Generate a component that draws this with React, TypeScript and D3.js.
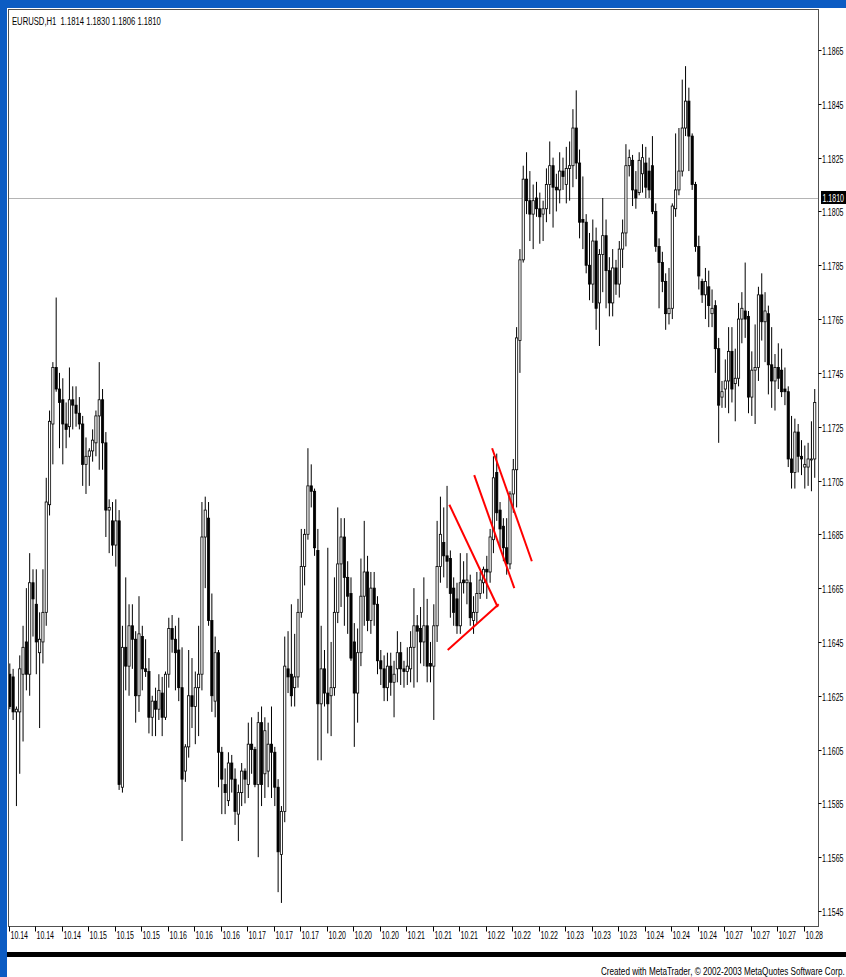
import React, { useEffect, useLayoutEffect, useRef, useState } from "react";
import * as d3 from "d3";

const opens = [
  1.1633,1.1632,1.1619,1.1619,1.1633,1.1645,1.1633,1.1667,1.1659,1.1641,
  1.1645,1.1656,1.1696,1.1726,1.1747,1.1739,1.1735,1.1726,1.1725,1.1735,
  1.1733,1.1730,1.1726,1.1711,1.1714,1.1716,1.1719,1.1729,1.1735,1.1719,
  1.1694,1.1690,1.1681,1.1690,1.1591,1.1643,1.1636,1.1651,1.1646,1.1625,
  1.1647,1.1635,1.1634,1.1617,1.1623,1.1620,1.1626,1.1617,1.1633,1.1650,
  1.1646,1.1642,1.1628,1.1597,1.1606,1.1625,1.1621,1.1628,1.1633,1.1684,
  1.1691,1.1653,1.1623,1.1641,1.1604,1.1592,1.1586,1.1600,1.1594,1.1581,
  1.1589,1.1597,1.1592,1.1607,1.1605,1.1592,1.1615,1.1596,1.1597,1.1607,
  1.1604,1.1591,1.1566,1.1582,1.1635,1.1633,1.1628,1.1632,1.1656,1.1673,
  1.1685,1.1703,1.1701,1.1679,1.1622,1.1635,1.1626,1.1625,1.1628,1.1656,
  1.1674,1.1684,1.1669,1.1663,1.1645,1.1626,1.1641,1.1662,1.1671,1.1653,
  1.1665,1.1659,1.1638,1.1635,1.1628,1.1636,1.1630,1.1635,1.1641,1.1635,
  1.1634,1.1635,1.1643,1.1651,1.1650,1.1645,1.1651,1.1637,1.1636,1.1651,
  1.1673,1.1682,1.1677,1.1676,1.1665,1.1661,1.1651,1.1668,1.1667,1.1667,
  1.1653,1.1656,1.1663,1.1667,1.1672,1.1671,1.1683,1.1708,1.1694,1.1688,
  1.1680,1.1674,1.1700,1.1709,1.1757,1.1787,1.1817,1.1809,1.1804,1.1810,
  1.1806,1.1804,1.1806,1.1815,1.1822,1.1814,1.1813,1.1820,1.1815,1.1821,
  1.1822,1.1836,1.1823,1.1802,1.1801,1.1785,1.1778,1.1794,1.1771,1.1789,
  1.1796,1.1783,1.1771,1.1784,1.1778,1.1791,1.1797,1.1822,1.1824,1.1813,
  1.1812,1.1819,1.1823,1.1820,1.1822,1.1805,1.1792,1.1786,1.1779,1.1767,
  1.1769,1.1806,1.1813,1.1820,1.1836,1.1846,1.1833,1.1815,1.1792,1.1779,
  1.1774,1.1777,1.1767,1.1770,1.1754,1.1736,1.1739,1.1742,1.1753,1.1741,
  1.1743,1.1765,1.1768,1.1766,1.1736,1.1746,1.1747,1.1774,1.1764,1.1767,
  1.1748,1.1742,1.1747,1.1746,1.1739,1.1738,1.1713,1.1708,1.1723,1.1714,
  1.1710,1.1710,1.1713,1.1713,
];

const highs = [
  1.1637,1.1635,1.1621,1.1640,1.1651,1.1665,1.1678,1.1672,1.1672,1.1656,
  1.1672,1.1706,1.1731,1.1749,1.1773,1.1745,1.1743,1.1734,1.1747,1.1740,
  1.1740,1.1736,1.1729,1.1721,1.1717,1.1724,1.1731,1.1749,1.1739,1.1723,
  1.1698,1.1697,1.1698,1.1694,1.1651,1.1669,1.1659,1.1659,1.1649,1.1662,
  1.1651,1.1646,1.1639,1.1625,1.1628,1.1633,1.1632,1.1634,1.1654,1.1655,
  1.1651,1.1654,1.1643,1.1607,1.1642,1.1639,1.1634,1.1651,1.1697,1.1699,
  1.1697,1.1663,1.1647,1.1642,1.1606,1.1598,1.1604,1.1603,1.1598,1.1592,
  1.1600,1.1598,1.1615,1.1617,1.1606,1.1619,1.1621,1.1617,1.1615,1.1621,
  1.1606,1.1594,1.1584,1.1647,1.1649,1.1659,1.1648,1.1661,1.1687,1.1687,
  1.1717,1.1711,1.1702,1.1687,1.1651,1.1642,1.1680,1.1645,1.1669,1.1695,
  1.1691,1.1691,1.1675,1.1669,1.1652,1.1650,1.1676,1.1690,1.1677,1.1671,
  1.1671,1.1662,1.1642,1.1640,1.1641,1.1641,1.1638,1.1649,1.1645,1.1638,
  1.1643,1.1649,1.1665,1.1655,1.1658,1.1669,1.1661,1.1645,1.1659,1.1690,
  1.1699,1.1695,1.1703,1.1679,1.1669,1.1667,1.1678,1.1675,1.1678,1.1670,
  1.1662,1.1671,1.1671,1.1673,1.1677,1.1687,1.1714,1.1715,1.1697,1.1691,
  1.1691,1.1701,1.1713,1.1762,1.1791,1.1822,1.1827,1.1820,1.1815,1.1816,
  1.1812,1.1809,1.1821,1.1831,1.1825,1.1819,1.1827,1.1825,1.1829,1.1831,
  1.1843,1.1850,1.1828,1.1818,1.1804,1.1797,1.1802,1.1799,1.1791,1.1810,
  1.1802,1.1788,1.1791,1.1787,1.1794,1.1802,1.1830,1.1828,1.1826,1.1820,
  1.1827,1.1830,1.1829,1.1825,1.1833,1.1808,1.1795,1.1790,1.1782,1.1784,
  1.1808,1.1834,1.1836,1.1854,1.1859,1.1851,1.1834,1.1816,1.1796,1.1780,
  1.1784,1.1783,1.1776,1.1772,1.1758,1.1742,1.1750,1.1762,1.1762,1.1754,
  1.1771,1.1775,1.1786,1.1768,1.1753,1.1763,1.1777,1.1782,1.1775,1.1770,
  1.1762,1.1752,1.1756,1.1754,1.1747,1.1740,1.1729,1.1728,1.1726,1.1720,
  1.1718,1.1719,1.1727,1.1739,
];

const lows = [
  1.1620,1.1616,1.1584,1.1596,1.1608,1.1627,1.1625,1.1647,1.1633,1.1613,
  1.1637,1.1651,1.1692,1.1711,1.1738,1.1717,1.1711,1.1717,1.1721,1.1724,
  1.1725,1.1724,1.1703,1.1700,1.1703,1.1712,1.1714,1.1709,1.1709,1.1684,
  1.1678,1.1677,1.1673,1.1590,1.1589,1.1627,1.1625,1.1635,1.1615,1.1619,
  1.1627,1.1632,1.1611,1.1610,1.1610,1.1616,1.1610,1.1616,1.1628,1.1641,
  1.1627,1.1623,1.1571,1.1593,1.1602,1.1613,1.1607,1.1610,1.1627,1.1665,
  1.1651,1.1619,1.1617,1.1591,1.1581,1.1581,1.1584,1.1589,1.1577,1.1571,
  1.1584,1.1585,1.1587,1.1596,1.1591,1.1565,1.1584,1.1587,1.1591,1.1587,
  1.1584,1.1552,1.1548,1.1578,1.1626,1.1621,1.1621,1.1628,1.1654,1.1666,
  1.1683,1.1695,1.1677,1.1601,1.1601,1.1621,1.1611,1.1610,1.1625,1.1652,
  1.1658,1.1651,1.1648,1.1638,1.1606,1.1615,1.1636,1.1651,1.1649,1.1648,
  1.1651,1.1633,1.1629,1.1623,1.1623,1.1625,1.1617,1.1630,1.1629,1.1628,
  1.1629,1.1630,1.1628,1.1630,1.1637,1.1636,1.1630,1.1630,1.1616,1.1645,
  1.1667,1.1669,1.1665,1.1654,1.1651,1.1648,1.1648,1.1663,1.1659,1.1651,
  1.1648,1.1652,1.1661,1.1663,1.1661,1.1667,1.1678,1.1690,1.1680,1.1675,
  1.1670,1.1672,1.1693,1.1695,1.1745,1.1786,1.1804,1.1794,1.1791,1.1803,
  1.1793,1.1794,1.1801,1.1804,1.1799,1.1805,1.1808,1.1813,1.1808,1.1809,
  1.1814,1.1817,1.1795,1.1791,1.1782,1.1772,1.1771,1.1761,1.1755,1.1775,
  1.1769,1.1766,1.1766,1.1774,1.1773,1.1784,1.1792,1.1818,1.1807,1.1806,
  1.1811,1.1812,1.1810,1.1810,1.1804,1.1790,1.1769,1.1775,1.1761,1.1763,
  1.1765,1.1803,1.1811,1.1818,1.1833,1.1820,1.1813,1.1790,1.1776,1.1771,
  1.1765,1.1762,1.1762,1.1745,1.1719,1.1732,1.1732,1.1730,1.1734,1.1727,
  1.1740,1.1756,1.1758,1.1730,1.1729,1.1726,1.1742,1.1757,1.1749,1.1737,
  1.1732,1.1731,1.1739,1.1736,1.1733,1.1710,1.1702,1.1702,1.1708,1.1707,
  1.1702,1.1703,1.1701,1.1706,
];

const closes = [
  1.1621,1.1619,1.1620,1.1635,1.1643,1.1633,1.1667,1.1661,1.1645,1.1646,
  1.1656,1.1697,1.1727,1.1747,1.1739,1.1734,1.1726,1.1724,1.1735,1.1733,
  1.1730,1.1726,1.1711,1.1714,1.1716,1.1720,1.1729,1.1735,1.1719,1.1694,
  1.1695,1.1681,1.1690,1.1592,1.1643,1.1636,1.1651,1.1646,1.1625,1.1648,
  1.1635,1.1634,1.1617,1.1623,1.1620,1.1627,1.1617,1.1633,1.1650,1.1646,
  1.1641,1.1628,1.1594,1.1606,1.1625,1.1621,1.1628,1.1633,1.1684,1.1694,
  1.1653,1.1625,1.1641,1.1604,1.1594,1.1589,1.1600,1.1594,1.1582,1.1589,
  1.1597,1.1594,1.1607,1.1605,1.1592,1.1615,1.1592,1.1612,1.1607,1.1604,
  1.1591,1.1567,1.1582,1.1636,1.1632,1.1625,1.1632,1.1656,1.1673,1.1685,
  1.1703,1.1701,1.1680,1.1622,1.1635,1.1626,1.1622,1.1628,1.1656,1.1674,
  1.1684,1.1669,1.1662,1.1639,1.1626,1.1641,1.1662,1.1671,1.1653,1.1665,
  1.1659,1.1638,1.1635,1.1628,1.1636,1.1630,1.1633,1.1641,1.1635,1.1634,
  1.1636,1.1643,1.1651,1.1649,1.1645,1.1651,1.1636,1.1636,1.1651,1.1673,
  1.1685,1.1677,1.1675,1.1663,1.1656,1.1651,1.1667,1.1667,1.1668,1.1654,
  1.1656,1.1663,1.1668,1.1672,1.1671,1.1684,1.1706,1.1693,1.1687,1.1680,
  1.1674,1.1700,1.1709,1.1758,1.1787,1.1817,1.1809,1.1804,1.1809,1.1806,
  1.1803,1.1806,1.1815,1.1822,1.1814,1.1813,1.1820,1.1818,1.1821,1.1822,
  1.1836,1.1823,1.1801,1.1801,1.1785,1.1778,1.1794,1.1769,1.1789,1.1796,
  1.1783,1.1771,1.1784,1.1778,1.1791,1.1797,1.1822,1.1825,1.1813,1.1810,
  1.1824,1.1825,1.1814,1.1813,1.1805,1.1792,1.1786,1.1779,1.1767,1.1769,
  1.1807,1.1813,1.1820,1.1836,1.1846,1.1833,1.1815,1.1792,1.1781,1.1774,
  1.1779,1.1770,1.1769,1.1754,1.1733,1.1738,1.1742,1.1753,1.1739,1.1743,
  1.1765,1.1769,1.1765,1.1736,1.1746,1.1747,1.1774,1.1764,1.1768,1.1748,
  1.1742,1.1747,1.1743,1.1738,1.1738,1.1713,1.1708,1.1723,1.1714,1.1713,
  1.1711,1.1713,1.1713,1.1734,
];

const dateLabels = [
  "10.14","10.14","10.14","10.15","10.15","10.15","10.16","10.16","10.16",
  "10.17","10.17","10.17","10.20","10.20","10.20","10.21","10.21","10.21",
  "10.22","10.22","10.22","10.23","10.23","10.23","10.24","10.24","10.24",
  "10.27","10.27","10.27","10.28",
];
const barsPerLabel = 8;

const priceTicks = [
  1.1865,1.1845,1.1825,1.1805,1.1785,1.1765,1.1745,1.1725,1.1705,
  1.1685,1.1665,1.1645,1.1625,1.1605,1.1585,1.1565,1.1545,
];

const currentPrice = 1.1810;
const headerText = "EURUSD,H1  1.1814 1.1830 1.1806 1.1810";
const footerText = "Created with MetaTrader, \u00A9 2002-2003 MetaQuotes Software Corp.";

// trend lines drawn on the chart: [barIndex, price] endpoints
const trendLineStarts = [
  [132.7, 1.1696],
  [132.2, 1.1642],
  [140.2, 1.1707],
  [145.6, 1.1717],
];
const trendLineEnds = [
  [147.3, 1.1658],
  [147.6, 1.1659],
  [152.3, 1.1665],
  [157.6, 1.1675],
];

const W = 846;
const H = 977;
const FRAME = { left: 8.5, top: 9.5, right: 818.5, bottom: 926.5 };
const BLUE = "#0c5cc3";
const FONT = "'Liberation Sans', Arial, sans-serif";

// text that is squeezed horizontally to a given width (the reference font is narrow)
function FitText(props: {
  x: number;
  y: number;
  width: number;
  size: number;
  fill?: string;
  children: string;
}) {
  const ref = useRef<SVGTextElement>(null);
  const [sx, setSx] = useState(0.62);
  useLayoutEffect(() => {
    const el = ref.current;
    if (!el) return;
    const len = el.getComputedTextLength();
    if (len > 0) setSx(props.width / len);
  }, [props.children, props.width, props.size]);
  return (
    <text
      ref={ref}
      transform={`translate(${props.x},${props.y}) scale(${sx},1)`}
      x={0}
      y={0}
      fontFamily={FONT}
      fontSize={props.size}
      fill={props.fill || "#000"}
      style={{ whiteSpace: "pre" }}
    >
      {props.children}
    </text>
  );
}

export default function App() {
  useEffect(() => {
    document.body.style.margin = "0";
  }, []);

  const x = d3.scaleLinear().domain([0, 240]).range([9.8, 804.8]);
  const y = d3.scaleLinear().domain([1.1545, 1.1865]).range([911, 50]);

  const bars = opens.map((o, i) => ({
    i,
    o,
    h: Math.max(highs[i], o, closes[i]),
    l: Math.min(lows[i], o, closes[i]),
    c: closes[i],
  }));

  const bodyW = 2.2;
  const fmt = d3.format(".4f");
  const cpY = y(currentPrice);

  return (
    <svg
      width={W}
      height={H}
      viewBox={`0 0 ${W} ${H}`}
      style={{ position: "absolute", left: 0, top: 0, display: "block" }}
    >
      <defs>
        <clipPath id="plotClip">
          <rect
            x={FRAME.left}
            y={FRAME.top}
            width={FRAME.right - FRAME.left}
            height={FRAME.bottom - FRAME.top}
          />
        </clipPath>
      </defs>
      <rect x={0} y={0} width={W} height={H} fill={BLUE} />
      <rect x={7} y={8} width={W - 7} height={H - 8} fill="#ffffff" />

      {/* header */}
      <FitText x={12} y={25} width={149} size={11}>
        {headerText}
      </FitText>

      {/* current price line */}
      <line
        x1={FRAME.left}
        x2={FRAME.right}
        y1={Math.round(cpY) + 0.5}
        y2={Math.round(cpY) + 0.5}
        stroke="#b4b4b4"
        strokeWidth={1}
      />

      {/* candles */}
      <g clipPath="url(#plotClip)">
        {bars.map((b) => {
          const cx = x(b.i);
          const top = y(Math.max(b.o, b.c));
          const bot = y(Math.min(b.o, b.c));
          const up = b.c >= b.o;
          return (
            <g key={b.i}>
              <line
                x1={cx}
                x2={cx}
                y1={y(b.h)}
                y2={y(b.l)}
                stroke="#000"
                strokeWidth={1}
              />
              <rect
                x={cx - bodyW / 2}
                y={top}
                width={bodyW}
                height={Math.max(bot - top, 1)}
                fill={up ? "#ffffff" : "#000000"}
                stroke="#000"
                strokeWidth={0.8}
              />
            </g>
          );
        })}

        {trendLineStarts.map((s, k) => (
          <line
            key={k}
            x1={x(s[0])}
            y1={y(s[1])}
            x2={x(trendLineEnds[k][0])}
            y2={y(trendLineEnds[k][1])}
            stroke="#ff0000"
            strokeWidth={2}
          />
        ))}
      </g>

      {/* frame */}
      <rect
        x={FRAME.left}
        y={FRAME.top}
        width={FRAME.right - FRAME.left}
        height={FRAME.bottom - FRAME.top}
        fill="none"
        stroke="#505050"
        strokeWidth={1}
      />

      {/* price axis */}
      {priceTicks.map((p) => {
        const py = Math.round(y(p)) + 0.5;
        return (
          <g key={p}>
            <line x1={FRAME.right} x2={FRAME.right + 3} y1={py} y2={py} stroke="#000" />
            <FitText x={822} y={py + 4.5} width={21.5} size={11.5}>
              {fmt(p)}
            </FitText>
          </g>
        );
      })}

      {/* current price marker */}
      <rect x={821} y={cpY - 7} width={25} height={13} fill="#000" />
      <FitText x={822.5} y={cpY + 4} width={21.5} size={11.5} fill="#fff">
        {fmt(currentPrice)}
      </FitText>

      {/* time axis */}
      {dateLabels.map((lab, k) => {
        const tx = Math.round(x(k * barsPerLabel)) - 0.5;
        return (
          <g key={k}>
            <line x1={tx} x2={tx} y1={FRAME.bottom} y2={FRAME.bottom + 5} stroke="#000" />
            <FitText x={tx + 1} y={938.5} width={17.5} size={11}>
              {lab}
            </FitText>
          </g>
        );
      })}

      {/* bottom bar */}
      <rect x={7} y={952} width={W - 7} height={5} fill="#000" />
      <FitText x={601} y={975} width={244} size={11}>
        {footerText}
      </FitText>
    </svg>
  );
}
